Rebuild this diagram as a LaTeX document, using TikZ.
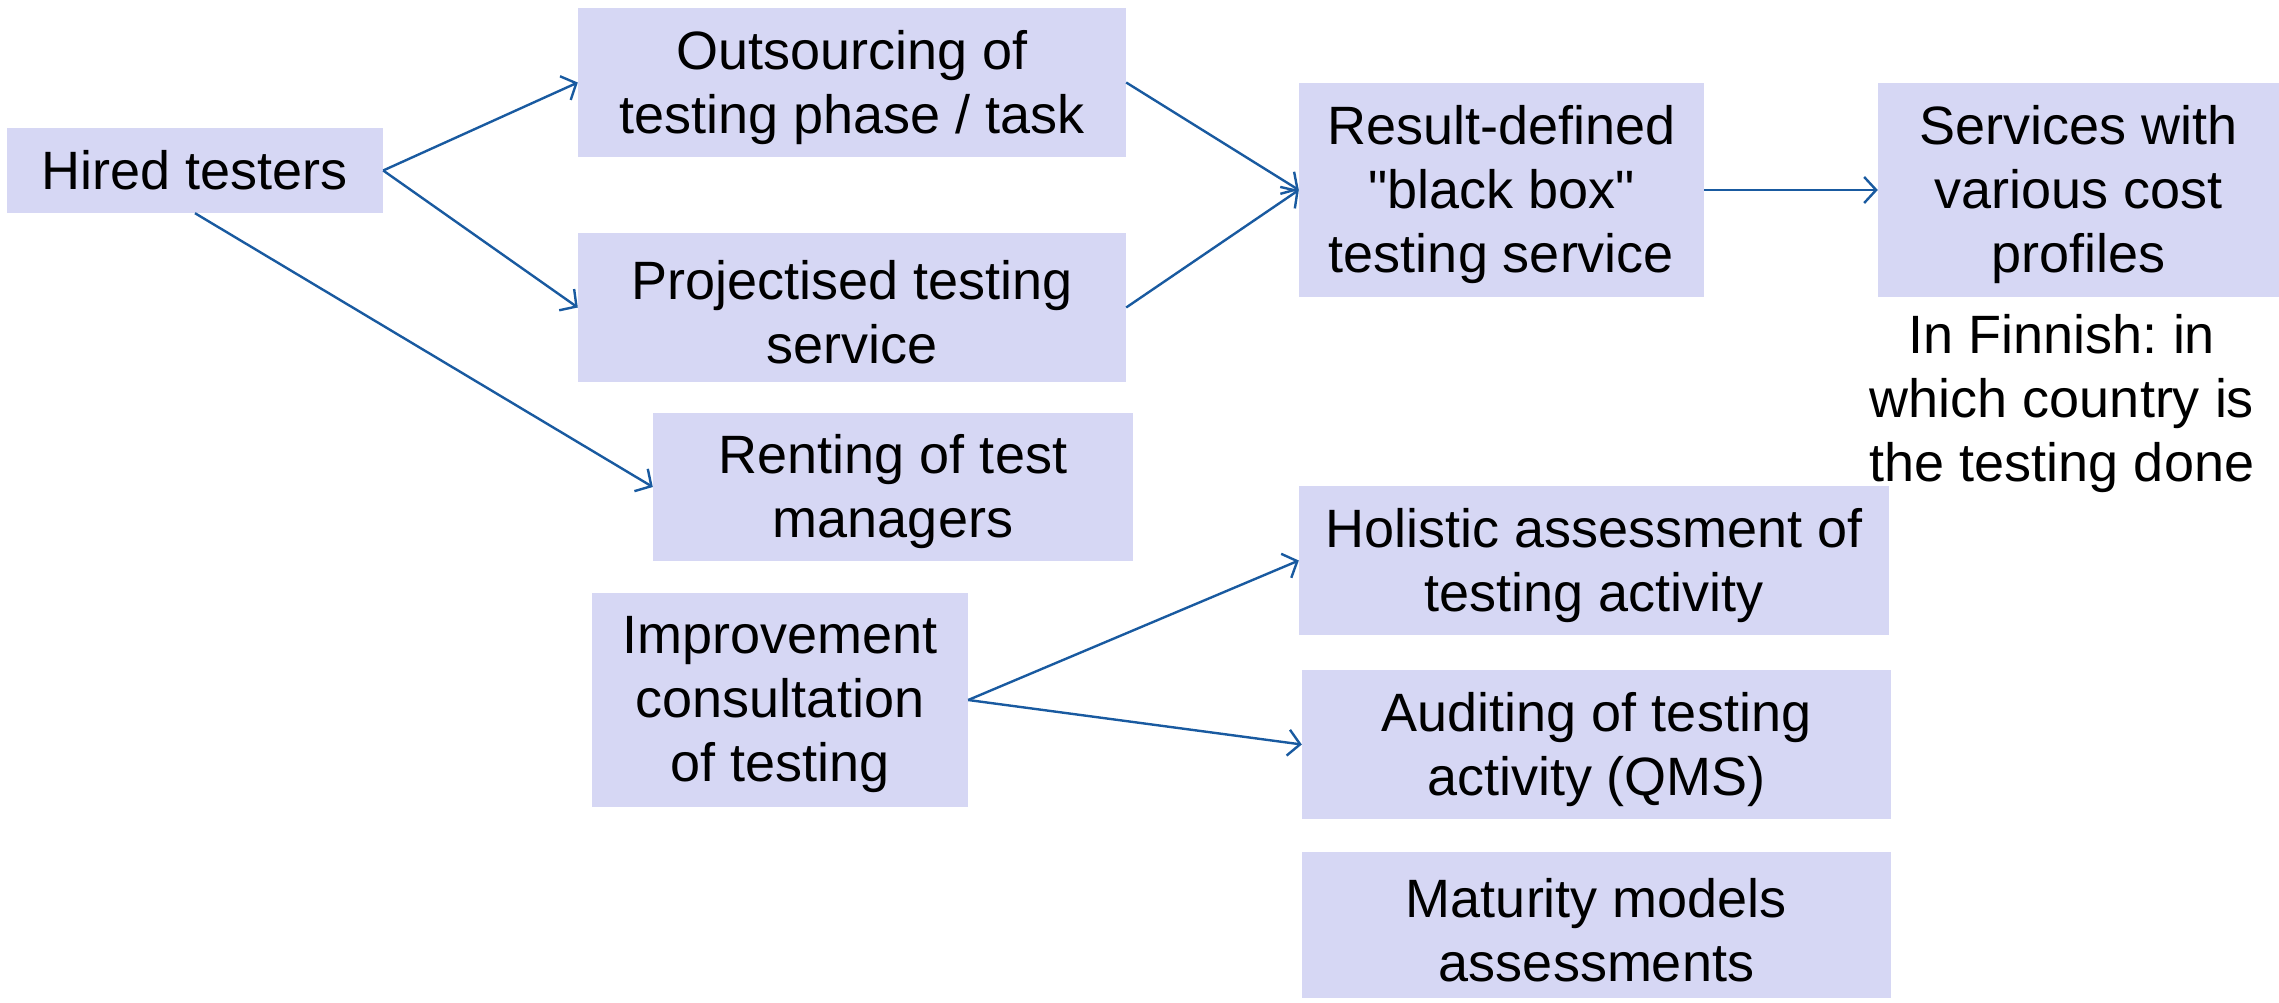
\documentclass[tikz,border=0pt]{standalone}
\usepackage{fontspec}
\setmainfont{Liberation Sans}[Ligatures=TeXOff]
\usetikzlibrary{arrows.meta}
\frenchspacing
\definecolor{boxfill}{RGB}{214,215,244}
\definecolor{arrowblue}{RGB}{25,90,160}
\tikzset{
  box/.style={fill=boxfill, draw=none, inner sep=0pt, align=center,
    font=\fontsize{54}{64}\selectfont},
  lbl/.style={inner sep=0pt, align=center, font=\fontsize{54}{64}\selectfont},
  conn/.style={draw=arrowblue, line width=2.4pt, -{Straight Barb[length=12pt,width=26pt,line width=2.4pt]}},
  note/.style={inner sep=0pt, align=center, font=\fontsize{54}{64}\selectfont}
}
\begin{document}
\begin{tikzpicture}[x=1pt,y=-1pt]
\useasboundingbox (0,0) rectangle (2279,1003);
\node[box, minimum width=376pt, minimum height=85pt] (hired) at (195,170.5) {Hired testers};
\node[box, minimum width=548pt, minimum height=149pt] (out) at (852,82.5) {};
\node[box, minimum width=548pt, minimum height=149pt] (proj) at (852,307.5) {};
\node[box, minimum width=480pt, minimum height=148pt] (rent) at (893,487) {};
\node[box, minimum width=376pt, minimum height=214pt] (impr) at (780,700) {};
\node[box, minimum width=405pt, minimum height=214pt] (res) at (1501.5,190) {};
\node[box, minimum width=401pt, minimum height=214pt] (serv) at (2078.5,190) {};
\node[box, minimum width=590pt, minimum height=149pt] (hol) at (1594,560.5) {};
\node[box, minimum width=589pt, minimum height=149pt] (aud) at (1596.5,744.5) {};
\node[box, minimum width=589pt, minimum height=146pt] (mat) at (1596.5,925) {};
\node[lbl] (outT) at ([yshift=-5pt]out.center) {Outsourcing of\\testing phase / task};
\node[lbl] (projT) at ([yshift=-5pt]proj.center) {Projectised testing\\service};
\node[lbl] (rentT) at ([yshift=-5pt]rent.center) {Renting of test\\managers};
\node[lbl] (imprT) at ([yshift=-5pt]impr.center) {Improvement\\consultation\\of testing};
\node[lbl] (resT) at ([yshift=-5pt]res.center) {Result-defined\\"black box"\\testing service};
\node[lbl] (servT) at ([yshift=-5pt]serv.center) {Services with\\various cost\\profiles};
\node[lbl] (holT) at ([yshift=-5pt]hol.center) {Holistic assessment of\\testing activity};
\node[lbl] (audT) at ([yshift=-5pt]aud.center) {Auditing of testing\\activity (QMS)};
\node[lbl] (matT) at ([yshift=-5pt]mat.center) {Maturity models\\assessments};
\node[note] (fin) at (2062,404) {In Finnish: in\\which country is\\the testing done};
\draw[conn] (hired.east) -- (out.west);
\draw[conn] (hired.east) -- (proj.west);
\draw[conn] (hired.south) -- (rent.west);
\draw[conn] (out.east) -- (res.west);
\draw[conn] (proj.east) -- (res.west);
\draw[conn] (res.east) -- (serv.west);
\draw[conn] (impr.east) -- (hol.west);
\draw[conn] (impr.east) -- (aud.west);
\end{tikzpicture}
\end{document}
